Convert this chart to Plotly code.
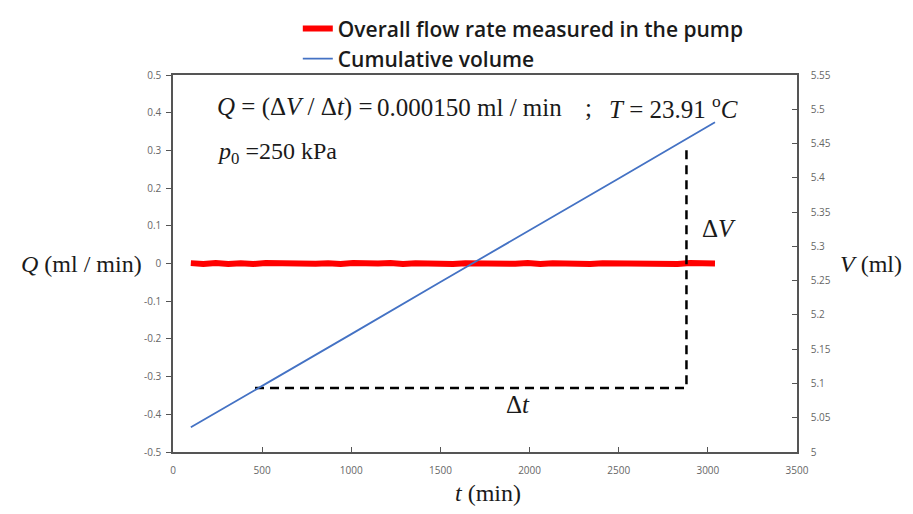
import plotly.graph_objects as go

# ---- data ----
t_flow = [100, 170, 240, 310, 380, 450, 520, 590, 660, 730, 800, 870, 940, 1010, 1080,
          1150, 1220, 1290, 1360, 1430, 1500, 1570, 1640, 1710, 1780, 1850, 1920, 1990,
          2060, 2130, 2200, 2270, 2340, 2410, 2480, 2550, 2620, 2690, 2760, 2830, 2900,
          2970, 3040]
q_flow = [0.001, -0.001, 0.0015, -0.001, 0.0005, -0.0015, 0.001, 0.000, -0.001, 0.0015,
          -0.0005, 0.0005, -0.0015, 0.001, -0.0005, 0.000, 0.0015, -0.001, 0.0005, -0.0005,
          0.001, -0.0015, 0.0005, 0.000, -0.001, 0.001, -0.0005, 0.0015, -0.001, 0.0005,
          -0.0005, 0.001, -0.0015, 0.0005, 0.000, -0.001, 0.001, -0.0005, 0.0005, -0.001,
          0.001, -0.0005, 0.000]
t_vol = [100, 500, 1000, 1500, 2000, 2500, 3040]
v_vol = [5.036, 5.097, 5.172, 5.248, 5.323, 5.399, 5.481]

dt_t = [460, 2880]          # horizontal dashed guide (Δt)
dt_q = -0.33
dv_q_top = 0.305            # top of vertical dashed guide (ΔV)

x_ticks = [0, 500, 1000, 1500, 2000, 2500, 3000, 3500]
q_ticks = [0.5, 0.4, 0.3, 0.2, 0.1, 0, -0.1, -0.2, -0.3, -0.4, -0.5]
q_tick_text = ["0.5", "0.4", "0.3", "0.2", "0.1", "0", "-0.1", "-0.2", "-0.3", "-0.4", "-0.5"]
v_ticks = [5, 5.05, 5.1, 5.15, 5.2, 5.25, 5.3, 5.35, 5.4, 5.45, 5.5, 5.55]
v_tick_text = ["5", "5.05", "5.1", "5.15", "5.2", "5.25", "5.3", "5.35", "5.4", "5.45", "5.5", "5.55"]

red = "#ff0000"
blue = "#4472c4"
axis_col = "#555555"
tick_font = dict(family="Open Sans", size=10, color="#666666")
serif = "Liberation Serif"

fig = go.Figure()
fig.add_trace(go.Scatter(x=t_flow, y=q_flow, mode="lines", name="Overall flow rate measured in the pump",
                         line=dict(color=red, width=6), legendgroup="a"))
fig.add_trace(go.Scatter(x=t_vol, y=v_vol, mode="lines", name="Cumulative volume",
                         line=dict(color=blue, width=1.8), yaxis="y2", legendgroup="b"))
fig.add_trace(go.Scatter(x=dt_t + [dt_t[1]], y=[dt_q, dt_q, dv_q_top], mode="lines", showlegend=False,
                         line=dict(color="black", width=2.5, dash="9px,6px"), hoverinfo="skip"))

# the page body adds an 8px offset, so the figure is 8px smaller than the window
fig.update_layout(
    width=905, height=506,
    margin=dict(l=165, r=116, t=67, b=62, autoexpand=False),
    paper_bgcolor="white", plot_bgcolor="white",
    legend=dict(x=0.2, xanchor="left", y=1.177, yanchor="top",
                font=dict(family="Open Sans", size=21, color="#1a1a1a", weight=600),
                tracegroupgap=0, bgcolor="rgba(0,0,0,0)"),
    xaxis=dict(range=[0, 3500], tickvals=x_ticks, ticks="inside", ticklen=5, tickcolor=axis_col,
               showline=True, linecolor=axis_col, linewidth=1.5, mirror=True, showgrid=False,
               zeroline=False, tickfont=tick_font, ticklabelstandoff=8),
    yaxis=dict(range=[-0.5, 0.5], tickvals=q_ticks, ticktext=q_tick_text, ticks="outside", ticklen=5,
               tickcolor=axis_col, showline=True, linecolor=axis_col, linewidth=1.5, showgrid=False,
               zeroline=False, tickfont=tick_font, ticklabelstandoff=3),
    yaxis2=dict(range=[5, 5.55], tickvals=v_ticks, ticktext=v_tick_text, overlaying="y", side="right",
                ticks="inside", ticklen=5, tickcolor=axis_col, showline=True, linecolor=axis_col,
                linewidth=1.5, showgrid=False, zeroline=False, tickfont=tick_font, ticklabelstandoff=10),
)

ann_font = dict(family=serif, size=25, color="#1a1a1a")


def note(x, y, text, xanchor="left", ref="data", size=25):
    r = ("x", "y") if ref == "data" else ("paper", "paper")
    fig.add_annotation(x=x, y=y, xref=r[0], yref=r[1], xanchor=xanchor, yanchor="middle",
                       showarrow=False, text=text, font=dict(ann_font, size=size))


note(236, 0.415, "<i>Q</i> = (Δ<i>V</i> / Δ<i>t</i>) =")
note(1133, 0.415, "0.000150 ml / min")
note(2300, 0.415, ";")
note(2434, 0.415, "<i>T</i> = 23.91 <sup>o</sup><i>C</i>")
note(236, 0.293, "<i>p</i><sub>0</sub> =250 kPa", size=24)
note(2954, 0.094, "Δ<i>V</i>")
note(1936, -0.375, "Δ<i>t</i>", xanchor="center")
note(-0.146, 0.5, "<i>Q</i> (ml / min)", xanchor="center", ref="paper", size=24)
note(1.119, 0.5, "<i>V</i> (ml)", xanchor="center", ref="paper", size=24)
note(0.505, -0.109, "<i>t</i> (min)", xanchor="center", ref="paper", size=24)

fig.write_html("out.html")
